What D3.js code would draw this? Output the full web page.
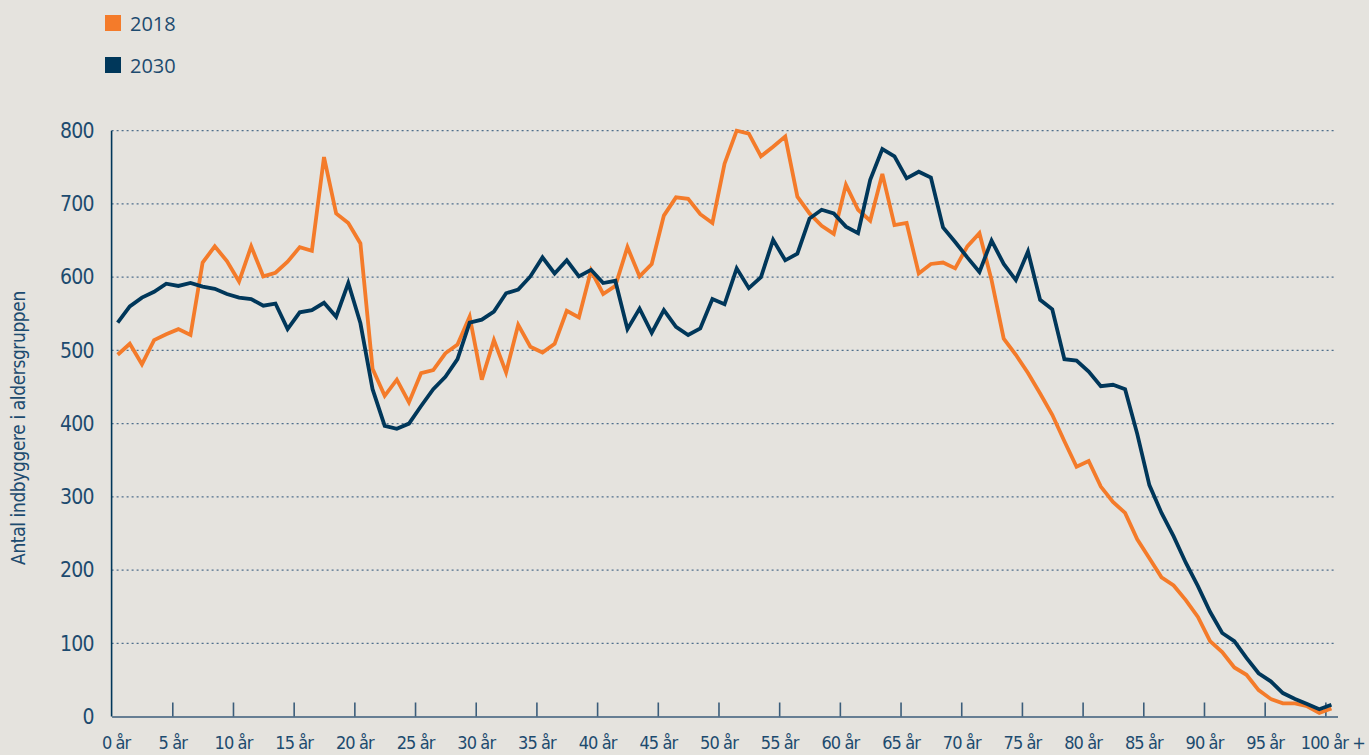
<!DOCTYPE html>
<html>
<head>
<meta charset="utf-8">
<script src="https://cdn.jsdelivr.net/npm/d3@7"></script>
<style>
  html, body { margin: 0; padding: 0; background: #E5E3DE; }
  svg { display: block; }
</style>
</head>
<body>
<svg id="chart" width="1369" height="755"></svg>
<script>
// ---- Data ----
const ages = d3.range(0, 101);
const seriesNames = ["2018", "2030"];
const values2018 = [494,509,481,514,522,529,521,620,642,622,594,642,601,606,621,641,636,764,687,674,
  646,475,438,460,429,469,473,496,508,546,460,514,470,535,505,497,509,554,545,609,
  577,588,641,601,618,684,709,707,686,674,755,800,796,765,778,792,710,687,670,659,
  726,692,677,741,671,674,605,618,620,612,642,660,596,516,494,469,441,412,376,341,
  349,314,293,278,242,216,190,179,159,136,103,88,67,57,36,24,18,18,14,5,11];
const values2030 = [538,560,572,580,591,588,592,587,584,577,572,570,561,564,529,552,555,565,546,592,
  537,447,397,393,400,424,447,464,488,538,542,553,578,583,601,627,605,623,601,610,
  592,595,529,557,524,555,532,521,530,570,563,612,585,600,651,623,632,680,692,687,
  669,660,733,775,765,735,744,736,668,648,627,607,650,618,596,635,569,556,488,486,
  471,451,453,447,386,316,278,246,210,178,143,114,103,80,59,48,32,24,17,10,16];
const xTickValues = d3.range(0, 101, 5);
const xTickLabels = xTickValues.map(v => v === 100 ? "100 år +" : v + " år");
const yTickValues = [0,100,200,300,400,500,600,700,800];
const yTitle = "Antal indbyggere i aldersgruppen";

// ---- Layout ----
const svg = d3.select("#chart");
const plotLeft = 111.6, plotRight = 1337.5, plotTop = 130.7, plotBottom = 716.5;
const textColor = "#1d4b6f";
const colors = {"2018": "#F47B2A", "2030": "#00375A"};
const narrow = "'Liberation Sans Narrow', 'DejaVu Sans Condensed', 'Roboto', sans-serif";

const x = d3.scaleLinear().domain([0, 101]).range([plotLeft, plotRight]);
const y = d3.scaleLinear().domain([0, 800]).range([plotBottom, plotTop]);

// gridlines
svg.append("g")
  .selectAll("line")
  .data(yTickValues.filter(v => v > 0))
  .join("line")
  .attr("x1", plotLeft).attr("x2", 1336)
  .attr("y1", d => y(d)).attr("y2", d => y(d))
  .attr("stroke", "#4f6f8c")
  .attr("stroke-width", 1.2)
  .attr("stroke-dasharray", "2,3");

// y axis
const yAxis = svg.append("g")
  .attr("transform", `translate(${plotLeft},0)`)
  .call(d3.axisLeft(y).tickValues(yTickValues).tickSize(0).tickPadding(18).tickFormat(d3.format("d")));
yAxis.select(".domain").remove();
yAxis.selectAll("text")
  .attr("fill", textColor)
  .attr("font-family", narrow)
  .attr("font-size", 21)
  .attr("letter-spacing", -0.8);

svg.append("line")
  .attr("x1", plotLeft).attr("x2", plotLeft)
  .attr("y1", y(800)).attr("y2", y(0))
  .attr("stroke", "#00375A").attr("stroke-width", 1.6);

// x axis
const xAxis = svg.append("g")
  .attr("transform", `translate(0,${plotBottom})`)
  .call(d3.axisBottom(x).tickValues(xTickValues).tickSizeInner(-14).tickSizeOuter(0).tickPadding(20)
    .tickFormat((d, i) => xTickLabels[i]));
xAxis.select(".domain").attr("stroke", "#3b5d7a").attr("stroke-width", 1.6);
xAxis.selectAll(".tick line").attr("stroke", "#3b5d7a").attr("stroke-width", 1.6)
  .attr("opacity", d => d === 0 ? 0 : 1);
xAxis.selectAll("text")
  .attr("fill", textColor)
  .attr("font-family", narrow)
  .attr("font-size", 18)
  .attr("letter-spacing", -0.9)
  .attr("dx", d => d === 0 ? 4 : (d === 100 ? 7 : 0));

// lines
const line = d3.line().x((d, i) => x(ages[i] + 0.5)).y(d => y(d));
const seriesData = {"2018": values2018, "2030": values2030};
seriesNames.forEach(name => {
  svg.append("path")
    .datum(seriesData[name])
    .attr("fill", "none")
    .attr("stroke", colors[name])
    .attr("stroke-width", 3.8)
    .attr("stroke-linejoin", "miter")
    .attr("d", line);
});

// legend
const legend = svg.append("g");
seriesNames.forEach((name, i) => {
  const g = legend.append("g").attr("transform", `translate(105,${15 + i * 42})`);
  g.append("rect").attr("width", 16).attr("height", 16).attr("fill", colors[name]);
  g.append("text").attr("x", 25).attr("y", 16)
    .attr("fill", textColor)
    .attr("font-family", "'Open Sans', sans-serif")
    .attr("font-size", 20)
    .text(name);
});

// y title
svg.append("text")
  .attr("transform", "translate(25,428) rotate(-90)")
  .attr("text-anchor", "middle")
  .attr("fill", textColor)
  .attr("font-family", narrow)
  .attr("font-size", 19)
  .attr("letter-spacing", -0.4)
  .text(yTitle);
</script>
</body>
</html>
